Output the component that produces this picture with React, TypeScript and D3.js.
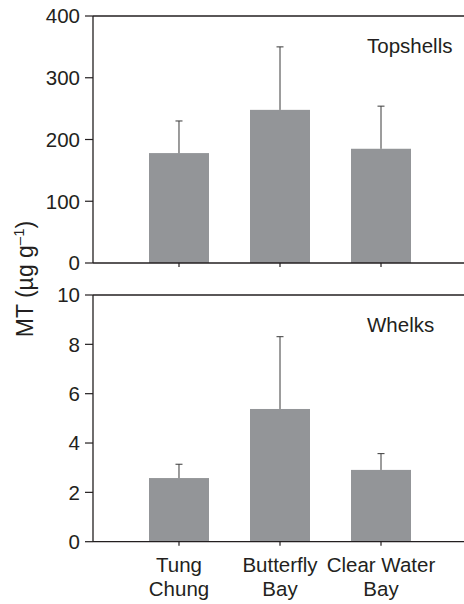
import React from 'react';
import * as d3 from 'd3';

// sites along the x axis (two-line labels)
const sites = ['Tung Chung', 'Butterfly Bay', 'Clear Water Bay'];
const siteLines = [['Tung', 'Chung'], ['Butterfly', 'Bay'], ['Clear Water', 'Bay']];

// MT concentration, mean and error (upper bar only)
const topshellMean = [178, 248, 185];
const topshellErr = [52, 102, 69];
const whelkMean = [2.58, 5.38, 2.91];
const whelkErr = [0.56, 2.93, 0.66];

const topshellTicks = [0, 100, 200, 300, 400];
const whelkTicks = [0, 2, 4, 6, 8, 10];

const W = 464;
const H = 604;
const axisX = 93;
const ink = '#231f20';
const barFill = '#939598';
const font = '"Liberation Sans", Arial, Helvetica, sans-serif';

const x = d3.scaleBand<string>().domain(sites).range([149, 411]).paddingInner(0.406).paddingOuter(0);

type PanelProps = {
	title: string;
	means: number[];
	errs: number[];
	ticks: number[];
	top: number;
	bottom: number;
};

function Panel({title, means, errs, ticks, top, bottom}: PanelProps) {
	const y = d3.scaleLinear().domain([0, ticks[ticks.length - 1]]).range([bottom, top]);
	const capHalf = 3.5;

	return (
		<g>
			{/* bars */}
			{sites.map((s, i) => (
				<rect key={s} x={x(s)} y={y(means[i])} width={x.bandwidth()} height={y(0) - y(means[i])} fill={barFill}/>
			))}
			{/* error bars */}
			{sites.map((s, i) => {
				const cx = (x(s) as number) + x.bandwidth() / 2;
				const yt = y(means[i] + errs[i]);
				return (
					<g key={s} stroke="#3a3a3a" strokeWidth={1}>
						<line x1={cx} x2={cx} y1={y(means[i])} y2={yt}/>
						<line x1={cx - capHalf} x2={cx + capHalf} y1={yt} y2={yt}/>
					</g>
				);
			})}
			{/* frame: top, left, bottom */}
			<g stroke={ink} strokeWidth={1.3} fill="none">
				<line x1={axisX} x2={W} y1={y(ticks[ticks.length - 1])} y2={y(ticks[ticks.length - 1])}/>
				<line x1={axisX} x2={axisX} y1={top} y2={bottom}/>
				<line x1={axisX} x2={W} y1={bottom} y2={bottom}/>
			</g>
			{/* y ticks */}
			{ticks.map(t => (
				<g key={t}>
					<line x1={axisX - 8} x2={axisX} y1={y(t)} y2={y(t)} stroke={ink} strokeWidth={1.2}/>
					<text x={80} y={y(t)} dy="0.36em" textAnchor="end" fontSize={20.5} fill={ink} fontFamily={font}>{t}</text>
				</g>
			))}
			{/* x ticks */}
			{sites.map(s => {
				const cx = (x(s) as number) + x.bandwidth() / 2;
				return <line key={s} x1={cx} x2={cx} y1={bottom} y2={bottom + 4} stroke={ink} strokeWidth={1.2}/>;
			})}
			<text x={367} y={top + 37} fontSize={20.5} fill={ink} fontFamily={font}>{title}</text>
		</g>
	);
}

export default function App() {
	return (
		<div style={{position: 'absolute', left: 0, top: 0}}>
			<svg width={W} height={H} style={{display: 'block', background: '#fff'}}>
				<Panel title="Topshells" means={topshellMean} errs={topshellErr} ticks={topshellTicks} top={16} bottom={263}/>
				<Panel title="Whelks" means={whelkMean} errs={whelkErr} ticks={whelkTicks} top={295} bottom={541.7}/>

				{/* x labels */}
				{sites.map((s, i) => {
					const cx = (x(s) as number) + x.bandwidth() / 2;
					return (
						<text key={s} x={cx} textAnchor="middle" fontSize={20.5} fill={ink} fontFamily={font}>
							<tspan x={cx} y={572}>{siteLines[i][0]}</tspan>
							<tspan x={cx} y={596}>{siteLines[i][1]}</tspan>
						</text>
					);
				})}

				{/* y label */}
				<text transform="translate(33,279) rotate(-90)" textAnchor="middle" fontSize={23} fill={ink} fontFamily={font}>
					MT (µg g<tspan dy={-9} fontSize={15}>–1</tspan><tspan dy={9}>)</tspan>
				</text>
			</svg>
		</div>
	);
}
